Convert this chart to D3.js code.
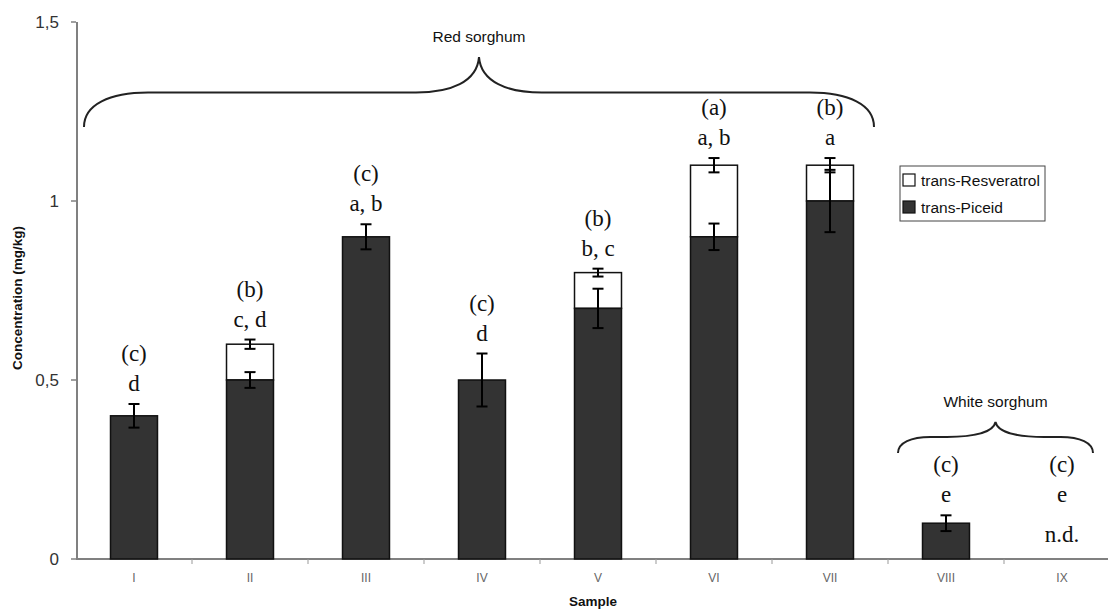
<!DOCTYPE html>
<html>
<head>
<meta charset="utf-8">
<script src="https://cdn.jsdelivr.net/npm/d3@7"></script>
<style>
  body { margin: 0; background: #fff; }
  svg { display: block; }
  .tick-y { font-family: "Liberation Sans", Arial, sans-serif; font-size: 17px; fill: #333; }
  .tick-x { font-family: "Liberation Sans", Arial, sans-serif; font-size: 12px; fill: #666; }
  .axisTitle { font-family: "Liberation Sans", Arial, sans-serif; font-size: 13.5px; font-weight: bold; fill: #111; }
  .letters { font-family: "Liberation Serif", "Times New Roman", serif; font-size: 23px; fill: #111; }
  .groupText { font-family: "Liberation Sans", Arial, sans-serif; font-size: 15.5px; fill: #111; }
  .legendText { font-family: "Liberation Sans", Arial, sans-serif; font-size: 15.5px; fill: #111; }
</style>
</head>
<body>
<div id="chart"></div>
<script>
// data
var samples = ["I", "II", "III", "IV", "V", "VI", "VII", "VIII", "IX"];
var piceid = [0.4, 0.5, 0.9, 0.5, 0.7, 0.9, 1.0, 0.1, 0];
var resveratrol = [0, 0.1, 0, 0, 0.1, 0.2, 0.1, 0, 0];
var piceidErr = [0.033, 0.022, 0.035, 0.074, 0.055, 0.037, 0.087, 0.022, 0];
var totalErr = [0, 0.013, 0, 0, 0.011, 0.02, 0.02, 0, 0];
var groupLetters = ["(c)", "(b)", "(c)", "(c)", "(b)", "(a)", "(b)", "(c)", "(c)"];
var sampleLetters = ["d", "c, d", "a, b", "d", "b, c", "a, b", "a", "e", "e"];
var detected = [true, true, true, true, true, true, true, true, false];
var yTicks = [0, 0.5, 1, 1.5];
var yTickLabels = ["0", "0,5", "1", "1,5"];
var groups = [
    { label: "Red sorghum", from: "I", to: "VII" },
    { label: "White sorghum", from: "VIII", to: "IX" }
];
var legendLabels = ["trans-Resveratrol", "trans-Piceid"];

var svgWidth = 1108, svgHeight = 610;
var margin = { top: 22, left: 76, bottom: 51 };
var chart_height = svgHeight - margin.top - margin.bottom; // 537

var rows = samples.map(function(s, i) {
    return {
        sample: s,
        piceid: piceid[i],
        total: piceid[i] + resveratrol[i],
        resveratrol: resveratrol[i],
        pErr: piceidErr[i],
        tErr: totalErr[i],
        g: groupLetters[i],
        s2: sampleLetters[i],
        detected: detected[i]
    };
});

var svg = d3.select("#chart").append("svg")
    .attr("width", svgWidth)
    .attr("height", svgHeight);

var xScale = d3.scaleBand()
    .domain(samples)
    .range([margin.left, margin.left + 116 * samples.length])
    .paddingInner(0.595)
    .paddingOuter(0.2975);

var yScale = d3.scaleLinear()
    .domain([0, 1.5])
    .range([margin.top + chart_height, margin.top]);

var y0 = yScale(0);
var bw = xScale.bandwidth();
var step = xScale.step();
function bandStart(s) { return xScale(s) - (step - bw) / 2; }

// x axis line and boundary ticks
svg.append("line")
    .attr("x1", margin.left).attr("x2", svgWidth)
    .attr("y1", y0).attr("y2", y0)
    .attr("stroke", "#808080").attr("stroke-width", 2);

svg.selectAll(".xtickmark")
    .data(samples.slice(1))
    .enter().append("line")
    .attr("x1", d => bandStart(d)).attr("x2", d => bandStart(d))
    .attr("y1", y0).attr("y2", y0 + 5)
    .attr("stroke", "#999").attr("stroke-width", 1);

svg.selectAll(".tick-x")
    .data(samples)
    .enter().append("text")
    .attr("class", "tick-x")
    .attr("x", d => xScale(d) + bw / 2)
    .attr("y", y0 + 23)
    .attr("text-anchor", "middle")
    .text(d => d);

// y axis
svg.append("line")
    .attr("x1", margin.left + 1).attr("x2", margin.left + 1)
    .attr("y1", yScale(1.5)).attr("y2", y0)
    .attr("stroke", "#808080").attr("stroke-width", 2);

svg.selectAll(".ytickmark")
    .data(yTicks)
    .enter().append("line")
    .attr("x1", margin.left - 5).attr("x2", margin.left)
    .attr("y1", d => yScale(d)).attr("y2", d => yScale(d))
    .attr("stroke", "#808080").attr("stroke-width", 1.5);

svg.selectAll(".tick-y")
    .data(yTicks)
    .enter().append("text")
    .attr("class", "tick-y")
    .attr("x", margin.left - 17)
    .attr("y", d => yScale(d) + 6)
    .attr("text-anchor", "end")
    .text((d, i) => yTickLabels[i]);

// axis titles
svg.append("text")
    .attr("class", "axisTitle")
    .attr("transform", "translate(22," + 298 + ") rotate(-90)")
    .attr("text-anchor", "middle")
    .text("Concentration (mg/kg)");

svg.append("text")
    .attr("class", "axisTitle")
    .attr("x", 569)
    .attr("y", 606)
    .text("Sample");

// bars
var shown = rows.filter(d => d.detected);

svg.selectAll(".resv")
    .data(shown.filter(d => d.resveratrol > 0))
    .enter().append("rect")
    .attr("x", d => xScale(d.sample))
    .attr("width", bw)
    .attr("y", d => yScale(d.total))
    .attr("height", d => yScale(d.piceid) - yScale(d.total))
    .attr("fill", "#fff")
    .attr("stroke", "#111")
    .attr("stroke-width", 1.5);

svg.selectAll(".pic")
    .data(shown)
    .enter().append("rect")
    .attr("x", d => xScale(d.sample))
    .attr("width", bw)
    .attr("y", d => yScale(d.piceid))
    .attr("height", d => y0 - yScale(d.piceid))
    .attr("fill", "#333")
    .attr("stroke", "#111")
    .attr("stroke-width", 1.5);

// error bars
function errBar(sel, val, err) {
    var cap = 5.5;
    sel.each(function(d) {
        var g = d3.select(this);
        var cx = xScale(d.sample) + bw / 2;
        var top = yScale(val(d) + err(d)), bot = yScale(val(d) - err(d));
        g.append("line").attr("x1", cx).attr("x2", cx).attr("y1", top).attr("y2", bot);
        g.append("line").attr("x1", cx - cap).attr("x2", cx + cap).attr("y1", top).attr("y2", top);
        g.append("line").attr("x1", cx - cap).attr("x2", cx + cap).attr("y1", bot).attr("y2", bot);
    });
}

svg.selectAll(".errP")
    .data(shown.filter(d => d.pErr > 0))
    .enter().append("g")
    .attr("stroke", "#000").attr("stroke-width", 2)
    .call(errBar, d => d.piceid, d => d.pErr);

svg.selectAll(".errT")
    .data(shown.filter(d => d.tErr > 0))
    .enter().append("g")
    .attr("stroke", "#000").attr("stroke-width", 2)
    .call(errBar, d => d.total, d => d.tErr);

// significance letters
var lastTop = 0;
rows.forEach(function(d) {
    var cx = xScale(d.sample) + bw / 2;
    var topPx;
    if (d.detected) {
        topPx = yScale(Math.max(d.piceid + d.pErr, d.total + d.tErr));
        lastTop = topPx;
    } else {
        topPx = lastTop;
        svg.append("text").attr("class", "letters")
            .attr("x", cx).attr("y", y0 - 17)
            .attr("text-anchor", "middle")
            .text("n.d.");
    }
    svg.append("text").attr("class", "letters")
        .attr("x", cx).attr("y", topPx - 13)
        .attr("text-anchor", "middle")
        .text(d.s2);
    svg.append("text").attr("class", "letters")
        .attr("x", cx).attr("y", topPx - 43)
        .attr("text-anchor", "middle")
        .text(d.g);
});

// braces
function bracePath(x1, x2, yEnd, yLine, yPeak) {
    var mid = (x1 + x2) / 2;
    var h = yEnd - yLine;
    var r = Math.min(64, (x2 - x1) / 6);
    var rm = Math.min(63, (x2 - x1) / 4);
    return "M" + x1 + "," + yEnd +
        " C" + x1 + "," + (yLine + h * 0.35) + " " + (x1 + r * 0.4) + "," + yLine + " " + (x1 + r) + "," + yLine +
        " L" + (mid - rm) + "," + yLine +
        " C" + (mid - rm * 0.45) + "," + yLine + " " + (mid - 2) + "," + (yLine - (yLine - yPeak) * 0.3) + " " + mid + "," + yPeak +
        " C" + (mid + 2) + "," + (yLine - (yLine - yPeak) * 0.3) + " " + (mid + rm * 0.45) + "," + yLine + " " + (mid + rm) + "," + yLine +
        " L" + (x2 - r) + "," + yLine +
        " C" + (x2 - r * 0.4) + "," + yLine + " " + x2 + "," + (yLine + h * 0.35) + " " + x2 + "," + yEnd;
}

var braceY = [
    { end: 1.207, line: 1.303, peak: 1.402, inL: 8, inR: 14 },
    { end: 0.296, line: 0.341, peak: 0.383, inL: 10, inR: 27 }
];

groups.forEach(function(gr, i) {
    var b = braceY[i];
    var x1 = bandStart(gr.from) + b.inL;
    var x2 = bandStart(gr.to) + step - b.inR;
    svg.append("path")
        .attr("d", bracePath(x1, x2, yScale(b.end), yScale(b.line), yScale(b.peak)))
        .attr("fill", "none")
        .attr("stroke", "#222")
        .attr("stroke-width", 2);
    svg.append("text")
        .attr("class", "groupText")
        .attr("x", (x1 + x2) / 2)
        .attr("y", yScale(b.peak) - 15)
        .attr("text-anchor", "middle")
        .text(gr.label);
});

// legend
var legend = svg.append("g").attr("transform", "translate(900,166)");
legend.append("rect")
    .attr("width", 145).attr("height", 55)
    .attr("fill", "#fff")
    .attr("stroke", "#444").attr("stroke-width", 1);

var legendFills = ["#fff", "#333"];
legendLabels.forEach(function(lbl, i) {
    var cy = 14 + i * 27;
    legend.append("rect")
        .attr("x", 3).attr("y", cy - 6)
        .attr("width", 12).attr("height", 12)
        .attr("fill", legendFills[i])
        .attr("stroke", "#111").attr("stroke-width", 1.2);
    legend.append("text")
        .attr("class", "legendText")
        .attr("x", 21).attr("y", cy + 5.5)
        .text(lbl);
});
</script>
</body>
</html>
